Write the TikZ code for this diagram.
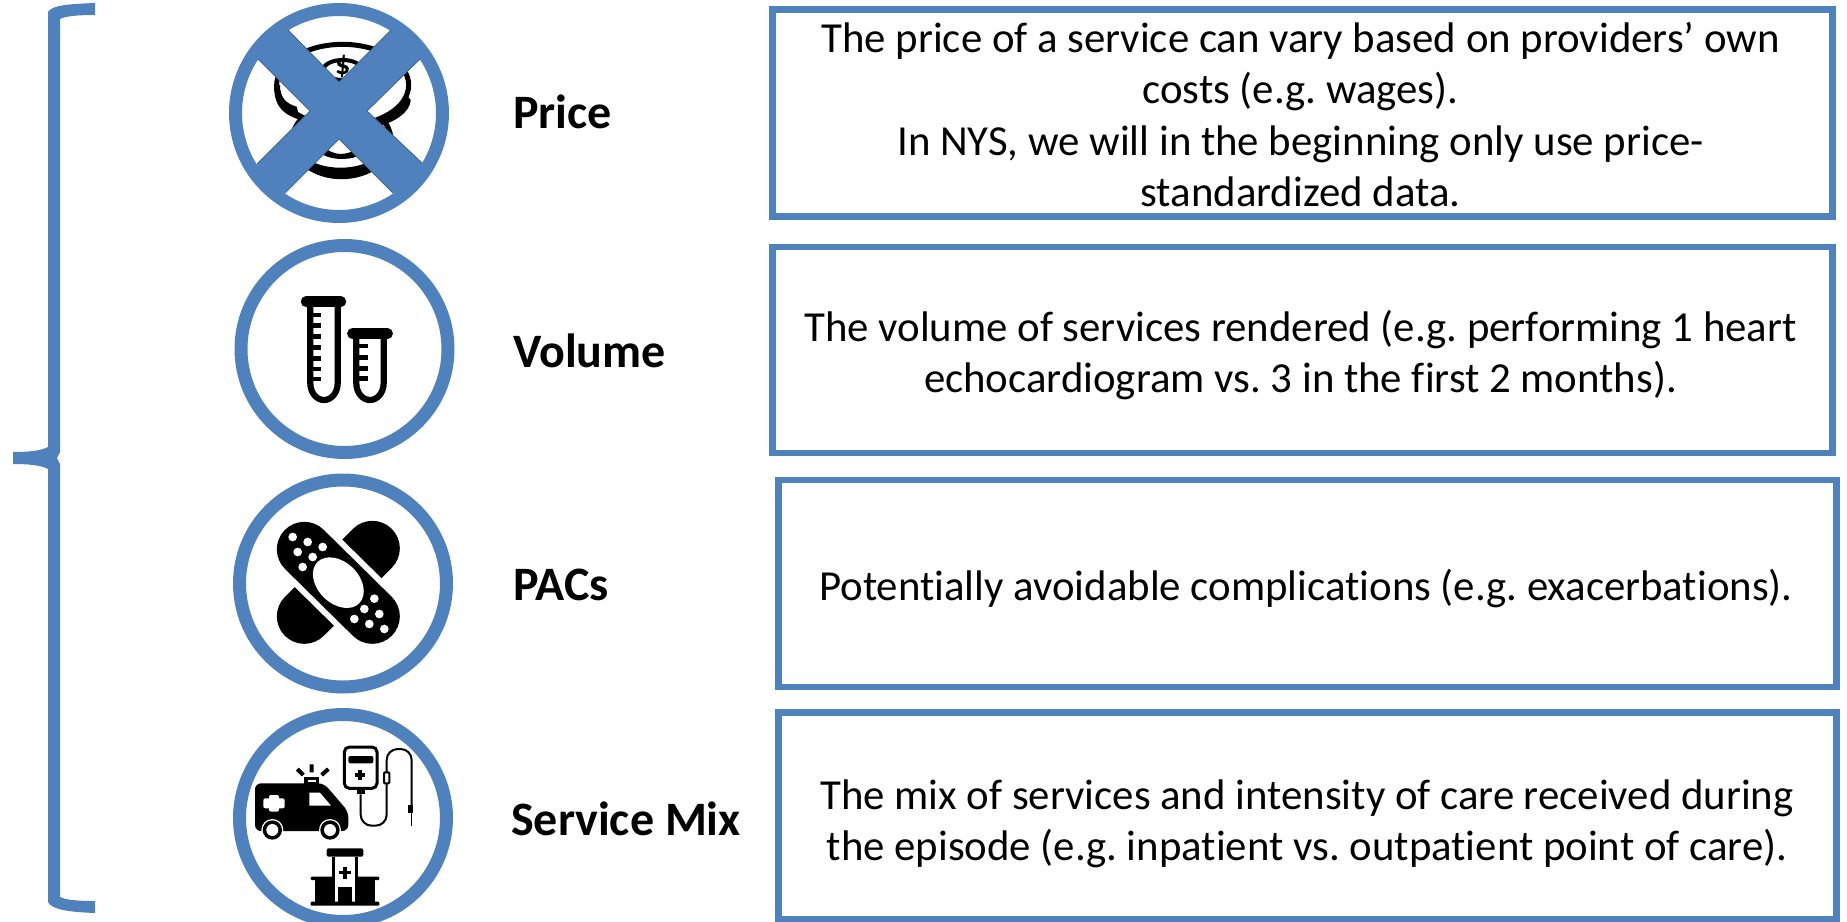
\documentclass[tikz,border=0pt]{standalone}
\usepackage{fontspec}
\setmainfont{Carlito}[Ligatures=NoCommon]
\definecolor{acc}{HTML}{4F81BD}
\definecolor{accd}{HTML}{3F6797}
\tikzset{
 x=1pt,y=-1pt,
 textbox/.style={draw=acc,line width=6.5pt,fill=white,inner sep=0pt},
 bodytext/.style={inner sep=0pt,align=center,font=\fontsize{42.8}{51.6}\selectfont,text=black},
 lab/.style={anchor=west,inner sep=0pt,font=\fontsize{48}{53}\selectfont\bfseries,text=black},
 ring/.style={circle,draw=acc,line width=13pt,fill=white,minimum size=207pt,inner sep=0pt},
 icon/.style={x=0.33333pt,y=-0.33333pt},
 wht/.style={fill=white,draw=none},
}
\begin{document}
\frenchspacing
\begin{tikzpicture}[line join=miter]
\useasboundingbox (0,0) rectangle (1847,921);
\clip (0,0) rectangle (1847,921);
% bracket
\fill[acc] (95,3) .. controls (70,4) and (52,5) .. (48,12) -- (48,447) .. controls (40,451) and (28,452) .. (13,452) -- (13,464)
 .. controls (28,464) and (40,465) .. (48,469) -- (48,902) .. controls (52,910) and (70,912) .. (95,913) -- (95,901)
 .. controls (78,901) and (66,900) .. (60,897) -- (60,464) -- (57,458) -- (60,452) -- (60,19) .. controls (66,16) and (78,15) .. (95,15) -- cycle;
% boxes
\node[textbox,minimum width=1060pt,minimum height=207pt] (b1) at (1302.5,113) {};
\node[textbox,minimum width=1060pt,minimum height=206pt] (b2) at (1302.5,350) {};
\node[textbox,minimum width=1058pt,minimum height=207pt] (b3) at (1307.5,583.5) {};
\node[textbox,minimum width=1058pt,minimum height=207pt] (b4) at (1307.5,816) {};
\node[bodytext] (t1) at (1300.5,114.5) {The price of a service can vary based on providers’ own\\costs (e.g. wages).\\In NYS, we will in the beginning only use price-\\standardized data.};
\node[bodytext] (t2) at (1300.5,355) {The volume of services rendered (e.g. performing 1 heart\\echocardiogram vs. 3 in the first 2 months).};
\node[bodytext] (t3) at (1306,588.5) {Potentially avoidable complications (e.g. exacerbations).};
\node[bodytext] (t4) at (1307,824) {The mix of services and intensity of care received during\\the episode (e.g. inpatient vs. outpatient point of care).};
% labels
\node[lab] (l1) at (513,112) {Price};
\node[lab] (l2) at (513,351) {Volume};
\node[lab] (l3) at (513,585) {PACs};
\node[lab] (l4) at (511,819) {Service Mix};
% rings
\node[ring] (c1) at (339,113) {};
\node[ring] (c2) at (344.5,349) {};
\node[ring] (c3) at (343,583.5) {};
\node[ring] (c4) at (343,818) {};
% coins
\begin{scope}[shift={(200pt,0pt)},icon]
 \draw[line width=5pt,fill=white] (425,420) ellipse [x radius=148,y radius=110];
 \fill (320,505) .. controls (390,550) and (460,545) .. (530,505) -- (520,480) .. controls (460,510) and (390,510) .. (335,485) -- cycle;
 \fill (365,435) .. controls (400,470) and (440,470) .. (480,440) -- (470,470) .. controls (440,480) and (400,480) .. (370,465) -- cycle;
 \draw[line width=5pt,fill=white] (428,255) ellipse [x radius=198,y radius=122];
 \fill (222,255) .. controls (222,330) and (260,345) .. (300,360) -- (290,320) .. controls (255,310) and (240,290) .. (240,255) -- cycle;
 \fill (632,300) .. controls (630,345) and (560,380) .. (500,385) -- (500,360) .. controls (560,350) and (610,330) .. (620,285) -- cycle;
 \draw[line width=4pt] (428,210) ellipse [x radius=58,y radius=30];
 \node[inner sep=0pt,font=\fontsize{30}{30}\selectfont\bfseries] (dollar) at (428,200) {\$};
\end{scope}
% cross
\fill[acc] (288,30) -- (339,82) -- (391,30) -- (413,39) -- (420,59) -- (367,111) -- (422,163) -- (413,187) -- (393,193) -- (339,139) -- (285,193) -- (265,187) -- (257,164) -- (310,111) -- (258,59) -- (265,39) -- cycle;
\draw[accd,line width=0.9pt] (288,30) -- (339,82) -- (391,30) (420,59) -- (367,111) -- (422,163) (393,193) -- (339,139) -- (285,193) (257,164) -- (310,111) -- (258,59);
% test tubes
\begin{scope}[shift={(220pt,-240pt)},icon]
 \draw[line width=10.5pt,line cap=round] (258,185) -- (363,185);
 \draw[line width=6.2pt] (271,190) -- (271,430) arc[start angle=180,end angle=0,x radius=41,y radius=50] -- (353,190);
 \foreach \yy in {225,257,290,322,355,387,417} \draw[line width=4.4pt] (271,\yy) -- (304,\yy);
 \draw[line width=10.5pt,line cap=round] (397,281) -- (503,281);
 \draw[line width=6.2pt] (409,285) -- (409,430) arc[start angle=180,end angle=0,x radius=41,y radius=50] -- (491,285);
 \foreach \yy in {318,352,385,415} \draw[line width=4.4pt] (409,\yy) -- (444,\yy);
\end{scope}
% bandage
\begin{scope}[shift={(220pt,-465pt)},icon]
 \draw[line width=55pt,line cap=round] (253,454) -- (457,250);
 \draw[white,line width=67pt] (253,253) -- (457,454);
 \draw[line width=55pt,line cap=round] (253,253) -- (457,454);
 \fill[white,rotate around={-44.6:(355,353)}] (355,353) ellipse [x radius=88,y radius=62];
 \foreach \xx/\yy in {218/216,263/231,308/246,233/261,278/276,248/306,463/401,433/432,478/447,403/462,448/477,493/492}
   \fill[white] (\xx,\yy) circle[radius=13];
\end{scope}
% service mix
\begin{scope}[shift={(220pt,-695pt)},icon]
 % ambulance
 \fill[rounded corners=6pt] (105,265) -- (312,265) -- (385,350) -- (385,408) -- (105,408) -- cycle;
 \fill[wht] (268,293) -- (300,293) -- (333,332) -- (268,332) -- cycle;
 \fill[wht,rounded corners=2pt] (147,300) rectangle (177,350);
 \fill[wht,rounded corners=2pt] (130,310) rectangle (194,340);
 \foreach \xx in {157,330} {\fill[wht] (\xx,405) circle[radius=33]; \fill (\xx,405) circle[radius=29]; \fill[wht] (\xx,405) circle[radius=18];}
 \draw[line width=3.4pt] (258,250) rectangle (293,266);
 \draw[line width=4pt] (275,208) -- (275,232) (232,222) -- (250,240) (325,222) -- (305,240);
 % IV bag
 \draw[line width=3pt,rounded corners=5pt] (373,156) rectangle (471,280);
 \fill[rounded corners=2pt] (385,183) rectangle (460,205);
 \draw[line width=3.4pt] (420,225) -- (420,255) (405,240) -- (435,240);
 \fill (410,283) rectangle (435,298);
 \draw[line width=2pt,rounded corners=11pt] (422,298) -- (422,392) -- (500,392) -- (500,162) -- (575,162) -- (575,330);
 \fill (565,330) rectangle (580,355);
 \draw[line width=1pt] (573,355) -- (573,392);
 \draw[line width=2pt,fill=white,rounded corners=1pt] (492,232) rectangle (508,265);
 % hospital
 \fill[rounded corners=2pt] (320,460) rectangle (430,485);
 \fill (335,485) rectangle (415,620);
 \fill[wht] (345,485) rectangle (405,620);
 \draw[line width=3.4pt] (375,515) -- (375,552) (356,533) -- (394,533);
 \fill (355,575) rectangle (395,620);
 \fill[rounded corners=1pt] (272,545) rectangle (340,555);
 \fill[rounded corners=1pt] (410,545) rectangle (478,555);
 \fill (285,555) rectangle (340,622);
 \fill (410,555) rectangle (465,622);
 \fill[rounded corners=1pt] (272,620) rectangle (478,632);
\end{scope}
\end{tikzpicture}
\end{document}
